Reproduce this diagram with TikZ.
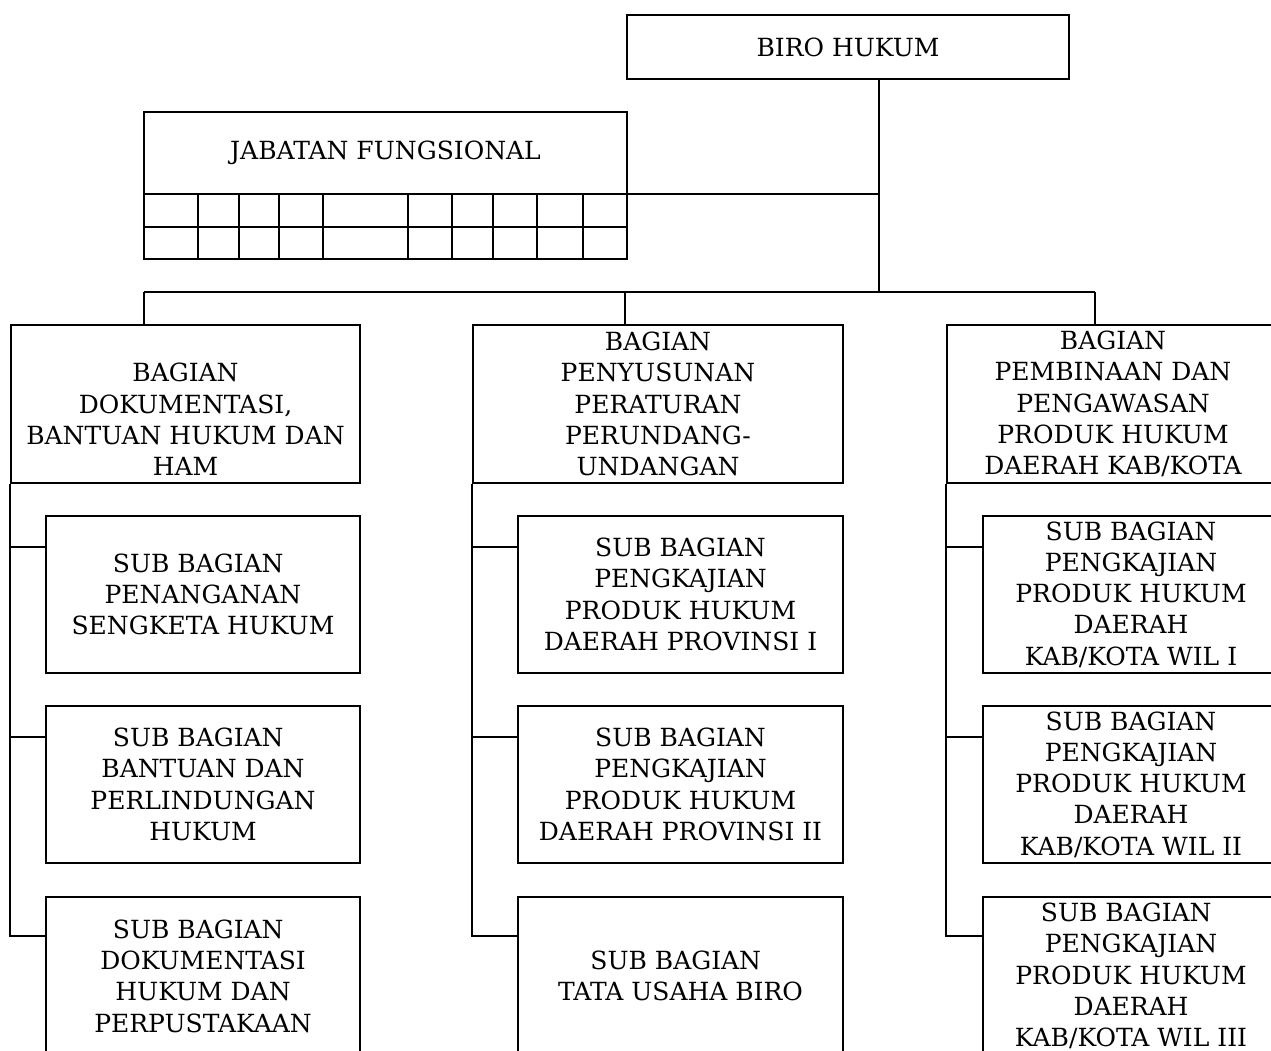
\documentclass[tikz,border=0pt]{standalone}
\usepackage{fontspec}
\setmainfont{DejaVu Serif}
\newcommand{\trail}{\rule{0.38em}{0pt}}
\begin{document}
\begin{tikzpicture}[x=1pt,y=-1pt,
  box/.style={draw, line width=1.6pt, rectangle, inner sep=0pt, align=center,
    font=\fontsize{25}{31.3}\selectfont},
  lbl/.style={inner sep=0pt, align=center, font=\fontsize{25}{31.3}\selectfont},
  bagian/.style={box, minimum height=158pt},
  sub/.style={box, minimum height=157pt},
  conn/.style={line width=1.6pt}]
\useasboundingbox (0,0) rectangle (1271,1051);
\clip (0,0) rectangle (1271,1051);
\fill[white] (0,0) rectangle (1271,1051);

% head of the bureau
\node[box, minimum width=442pt, minimum height=64pt] (biro) at (848,47) {BIRO HUKUM};

% functional positions with the grid below
\node[box, minimum width=483pt, minimum height=147pt] (jab) at (385.5,185.5) {};
\node[lbl] (jabT) at (385.5,153) {JABATAN FUNGSIONAL};
\draw[conn] (144,194) -- (627,194);
\draw[conn] (144,227) -- (627,227);
\foreach \gx in {198,239,279,323,408,452,493,537,583}
  \draw[conn] (\gx,194) -- (\gx,259);

% divisions
\node[bagian, minimum width=349pt] (bagL) at (185.5,404) {};
\node[lbl] (bagLT) at (185.5,419.5) {BAGIAN\\DOKUMENTASI,\\BANTUAN HUKUM DAN\\HAM};
\node[bagian, minimum width=370pt] (bagM) at (658,404)
  {BAGIAN\\PENYUSUNAN\\PERATURAN\\PERUNDANG-\\UNDANGAN};
\node[bagian, minimum width=332pt] (bagR) at (1113,404)
  {BAGIAN\\PEMBINAAN DAN\\PENGAWASAN\\PRODUK HUKUM\\DAERAH KAB/KOTA};

% sub-divisions, left column
\node[sub, minimum width=314pt] (subL1) at (203,594.5)
  {SUB BAGIAN\trail\\PENANGANAN\\SENGKETA HUKUM};
\node[sub, minimum width=314pt] (subL2) at (203,784.5)
  {SUB BAGIAN\trail\\BANTUAN DAN\\PERLINDUNGAN\\HUKUM};
\node[sub, minimum width=314pt, minimum height=158pt] (subL3) at (203,976)
  {SUB BAGIAN\trail\\DOKUMENTASI\\HUKUM DAN\\PERPUSTAKAAN};

% sub-divisions, middle column
\node[sub, minimum width=325pt] (subM1) at (680.5,594.5)
  {SUB BAGIAN\\PENGKAJIAN\\PRODUK HUKUM\\DAERAH PROVINSI I};
\node[sub, minimum width=325pt] (subM2) at (680.5,784.5)
  {SUB BAGIAN\\PENGKAJIAN\\PRODUK HUKUM\\DAERAH PROVINSI II};
\node[sub, minimum width=325pt, minimum height=158pt] (subM3) at (680.5,976)
  {SUB BAGIAN\trail\\TATA USAHA BIRO};

% sub-divisions, right column
\node[sub, minimum width=296pt] (subR1) at (1131,594.5)
  {SUB BAGIAN\\PENGKAJIAN\\PRODUK HUKUM\\DAERAH\\KAB/KOTA WIL I};
\node[sub, minimum width=296pt] (subR2) at (1131,784.5)
  {SUB BAGIAN\\PENGKAJIAN\\PRODUK HUKUM\\DAERAH\\KAB/KOTA WIL II};
\node[sub, minimum width=296pt, minimum height=158pt] (subR3) at (1131,976)
  {SUB BAGIAN\trail\\PENGKAJIAN\\PRODUK HUKUM\\DAERAH\\KAB/KOTA WIL III};

% main trunk and bus
\coordinate (bus) at (879,292);
\coordinate (jr) at (627,194);
\coordinate (dL) at (144,292);
\coordinate (dM) at (625,292);
\coordinate (dR) at (1095,292);
\draw[conn] (bus |- biro.south) -- (bus);
\draw[conn] (jr) -- (jr -| bus);
\draw[conn] (dL) -- (dR);
\draw[conn] (dL) -- (dL |- bagL.north);
\draw[conn] (dM) -- (dM |- bagM.north);
\draw[conn] (dR) -- (dR |- bagR.north);

% spines with branches to each sub-division
\foreach \col in {L,M,R}{
  \coordinate (b\col1) at ([yshift=-32pt]sub\col1.north west);
  \coordinate (b\col2) at ([yshift=-32pt]sub\col2.north west);
  \coordinate (b\col3) at ([yshift=-40pt]sub\col3.north west);
  \draw[conn] (bag\col.south west) -- (bag\col.south west |- b\col3) -- (b\col3);
  \draw[conn] (bag\col.south west |- b\col1) -- (b\col1);
  \draw[conn] (bag\col.south west |- b\col2) -- (b\col2);
}
\end{tikzpicture}
\end{document}
